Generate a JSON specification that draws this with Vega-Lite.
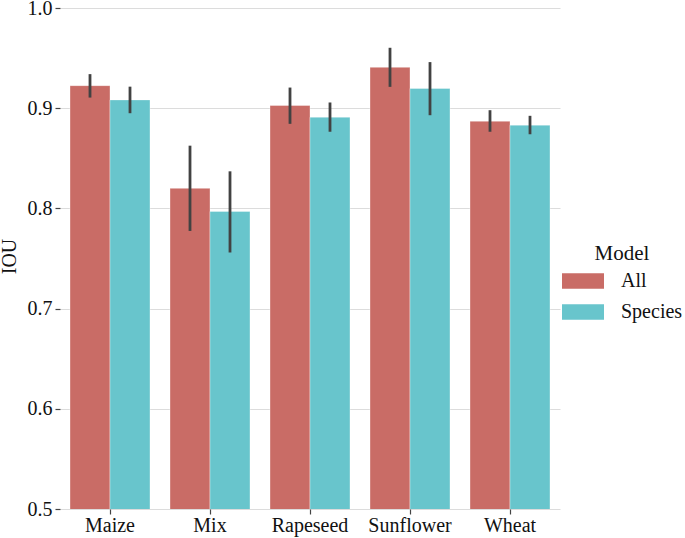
{
  "$schema": "https://vega.github.io/schema/vega-lite/v6.json",
  "width": 500,
  "height": 501,
  "autosize": {"type": "none"},
  "padding": {"left": 60, "top": 8, "right": 125, "bottom": 29},
  "background": "white",
  "config": {
    "font": "Liberation Serif",
    "view": {"stroke": null},
    "axis": {"labelFont": "Liberation Serif", "titleFont": "Liberation Serif", "labelColor": "#111", "titleColor": "#111"},
    "legend": {"labelFont": "Liberation Serif", "titleFont": "Liberation Serif"}
  },
  "data": {
    "values": [
      {"Crop": "Maize", "Model": "All", "IOU": 0.9225, "lo": 0.9106, "hi": 0.934},
      {"Crop": "Maize", "Model": "Species", "IOU": 0.9083, "lo": 0.895, "hi": 0.9215},
      {"Crop": "Mix", "Model": "All", "IOU": 0.820, "lo": 0.7775, "hi": 0.8626},
      {"Crop": "Mix", "Model": "Species", "IOU": 0.797, "lo": 0.756, "hi": 0.837},
      {"Crop": "Rapeseed", "Model": "All", "IOU": 0.9027, "lo": 0.8844, "hi": 0.9206},
      {"Crop": "Rapeseed", "Model": "Species", "IOU": 0.891, "lo": 0.8765, "hi": 0.9057},
      {"Crop": "Sunflower", "Model": "All", "IOU": 0.9408, "lo": 0.9213, "hi": 0.9603},
      {"Crop": "Sunflower", "Model": "Species", "IOU": 0.9197, "lo": 0.893, "hi": 0.946},
      {"Crop": "Wheat", "Model": "All", "IOU": 0.887, "lo": 0.8765, "hi": 0.898},
      {"Crop": "Wheat", "Model": "Species", "IOU": 0.8831, "lo": 0.874, "hi": 0.8924}
    ]
  },
  "encoding": {
    "x": {
      "field": "Crop", "type": "nominal", "sort": null,
      "scale": {"paddingInner": 0.2, "paddingOuter": 0.1},
      "axis": {"title": null, "labelAngle": 0, "labelFont": "Liberation Serif", "labelFontSize": 20, "tickSize": 5, "tickColor": "#444", "tickWidth": 1.2, "domain": false, "grid": false, "labelPadding": 1}
    },
    "xOffset": {"field": "Model", "type": "nominal", "scale": {"paddingInner": 0, "paddingOuter": 0}}
  },
  "layer": [
    {
      "mark": {"type": "bar", "clip": true, "stroke": "#ffffff", "strokeOpacity": 0.35, "strokeWidth": 1},
      "encoding": {
        "y": {
          "field": "IOU", "type": "quantitative",
          "scale": {"domain": [0.5, 1.0], "zero": false, "nice": false},
          "axis": {
            "title": "IOU", "titleFont": "Liberation Serif", "titleFontSize": 20, "titleFontWeight": "normal",
            "titleX": -45, "titleY": 248, "titleBaseline": "alphabetic", "titleAlign": "center", "titleAngle": -90,
            "values": [0.5, 0.6, 0.7, 0.8, 0.9, 1.0], "format": ".1f",
            "labelFont": "Liberation Serif", "labelFontSize": 20, "tickSize": 5, "tickColor": "#444", "tickWidth": 1.2, "labelPadding": 3,
            "domain": false, "grid": true, "gridColor": "#dcdcdc", "gridWidth": 1.2
          }
        },
        "color": {
          "field": "Model", "type": "nominal",
          "scale": {"domain": ["All", "Species"], "range": ["#c96c66", "#68c5cc"]},
          "legend": {
            "orient": "none", "legendX": 502, "legendY": 235,
            "title": "Model", "titleFont": "Liberation Serif", "titleFontSize": 21, "titleFontWeight": "normal", "titleColor": "#111", "titlePadding": -4,
            "titleAnchor": "middle",
            "labelFont": "Liberation Serif", "labelFontSize": 20, "labelColor": "#111", "labelOffset": 17,
            "symbolType": "M-1,-0.37L1,-0.37L1,0.37L-1,0.37Z", "symbolSize": 1764,
            "symbolStrokeWidth": 0, "symbolOpacity": 1, "rowPadding": -11
          }
        }
      }
    },
    {
      "mark": {"type": "rule", "color": "#424242", "strokeWidth": 2.8},
      "encoding": {
        "y": {"field": "lo", "type": "quantitative"},
        "y2": {"field": "hi"}
      }
    }
  ]
}
